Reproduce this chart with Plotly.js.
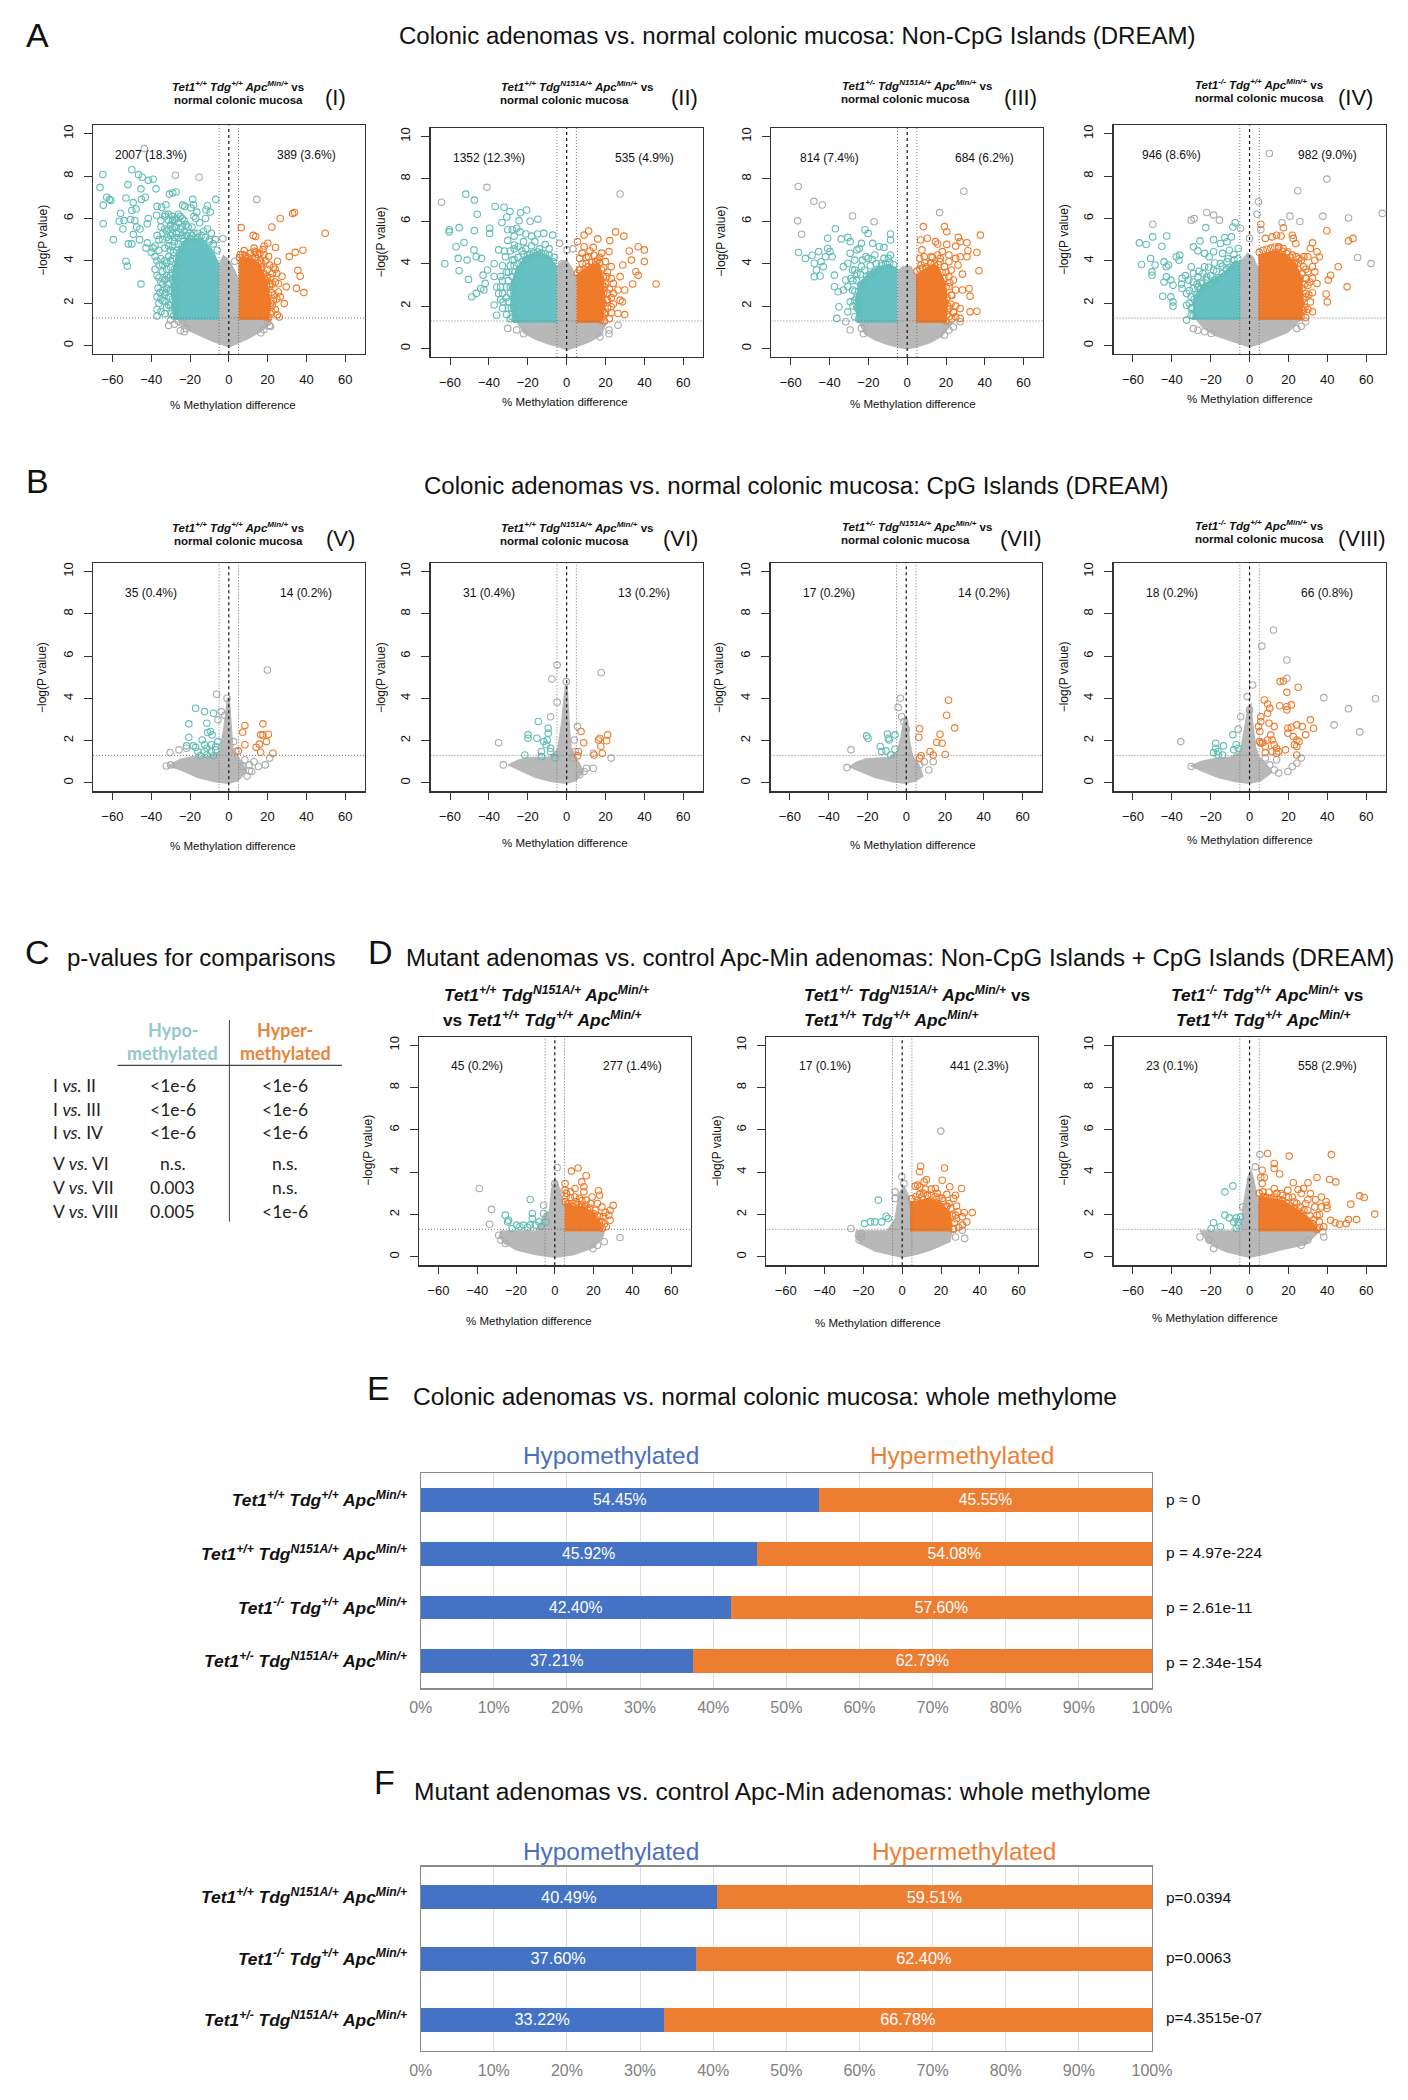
<!DOCTYPE html>
<html><head><meta charset="utf-8">
<script src="https://cdn.plot.ly/plotly-3.0.1.min.js"></script>
<style>html,body{margin:0;padding:0;background:#fff}#chart{width:1408px;height:2100px}</style>
</head><body><div id="chart"></div>
<script>
// ---------- values: [% methylation difference, -log(P)] ----------
const I_hypo=[[-64.9,8.08],[-50,8.3],[-46.5,8.07],[-44.6,7.95],[-41.5,7.8],[-39,7.85],[-66.4,7.47],[-52,7.6],[-45.3,7.4],[-37.5,7.4],[-62.9,7],[-61.5,6.9],[-60.8,6.85],[-53,6.97],[-49.3,6.75],[-45,6.9],[-43,7],[-30.6,7.15],[-28.9,7.2],[-27.2,7.25],[-18.6,6.9],[-6.7,6.9],[-64.7,6.63],[-55.8,6.25],[-50,6.38],[-47.8,6.45],[-37,6.57],[-34.6,6.53],[-32.4,6.65],[-23.8,6.63],[-22.7,6.57],[-18.2,6.65],[-19.6,6.5],[-11,6.6],[-11.7,6.4],[-9.6,6.3],[-56.5,5.87],[-54,5.9],[-64.7,5.75],[-50.6,5.95],[-48.4,5.9],[-54.6,5.5],[-47.5,5.6],[-45.8,5.5],[-59.5,5],[-49.2,5.25],[-42,5.75],[-41.5,6],[-37.2,6.15],[-32.7,6.2],[-51.8,4.8],[-50,4.8],[-46,5],[-42,4.85],[-42.7,4.6],[-53,3.98],[-52.3,3.75],[-45.3,2.9],[-33,6.1],[-31,5.9],[-29,6.1],[-27,6],[-25,6.1],[-23,5.9],[-30,5.7],[-28,5.6],[-26,5.8],[-24,5.6],[-22,5.7],[-32,5.4],[-29,5.3],[-27,5.3],[-24,5.2],[-35,5.6],[-37,5.2],[-34,5],[-31,5],[-38,4.7],[-36,4.5],[-33,4.6],[-30,4.5],[-28,4.9],[-40,4.4],[-38,4.2],[-35,4.1],[-33,4],[-31,4.2],[-29,4.1],[-27,4.5],[-36,3.8],[-34,3.5],[-32,3.6],[-30,3.7],[-28,3.6],[-37,3.3],[-35,3],[-33,3.1],[-31,3.2],[-29,3.1],[-36.5,2.7],[-34,2.6],[-32,2.7],[-30,2.6],[-28,2.8],[-37,2.3],[-35,2.2],[-33,2.1],[-31,2.3],[-29,2.2],[-27,2.4],[-36,2],[-30,1.9],[-28,1.8],[-27.5,1.6],[-28.5,1.4],[-37,1.7],[-37,1.4],[-19,5.6],[-17,6],[-15,5.8],[-13,5.4],[-11,5.5],[-9,5.3],[-7,5],[-16,5.3],[-20,5.3],[-12,6],[-10,5],[-18,6.1],[-16.5,6.3],[-27,1.4],[-27.5,1.9],[-26.5,2.2],[-27.5,2.6],[-26.5,3],[-27.5,3.3],[-26.8,3.7],[-25.5,3.9],[-27,4.1],[-25.5,4.4],[-24,4.7],[-26,4.8],[-24,5.05],[-22,5.2],[-20,5.05],[-18,5.3],[-16,5.1],[-14,5.2],[-12,5.1],[-10,4.9],[-8,4.8],[-6,4.5],[-29.5,1.5],[-31,1.9],[-32.5,2.5],[-31.5,2.9],[-30,3.3],[-32,3.3],[-34,3.8],[-32,3.9],[-30,4],[-28.5,4.4],[-31,4.7],[-29,4.7],[-26,5.1],[-28,5.1],[-30,5.2],[-32,5.1],[-33,5.5],[-31,5.5],[-29,5.5],[-27,5.6],[-25,5.5],[-23,5.4],[-21,5.6],[-19,5.2],[-34,2.9],[-33,2.4],[-34,2.1],[-32,1.8],[-33,1.5],[-35,1.6],[-35.5,2.5],[-36,3.2],[-38,3.6],[-37,4],[-39,4.6],[-36,5],[-34,5.3],[-28,5.95],[-26,6.2],[-24,6],[-29,5.9],[-31,6.2],[-35,5.9]];
const I_hyper=[[6.4,5.57],[12.6,5.2],[13.9,5.15],[22.2,5.6],[26.5,6],[32.9,6.23],[33.9,6.28],[49.7,5.3],[20.1,4.83],[18.2,4.7],[17.6,4.53],[24.1,4.63],[7.9,4.48],[13.3,4.45],[13.9,4.4],[34.2,4.4],[38.2,4.5],[31.2,4.2],[5.9,4.3],[35.6,3.55],[36.8,3.27],[34.9,2.7],[38.7,2.5],[25.1,3.98],[23.9,3.6],[24.8,3.4],[27.4,3.27],[25.6,2.92],[29.6,2.77],[25.6,2.53],[26.5,2.3],[28.6,1.98],[24.8,2.2],[21.3,2.9],[19.6,3.25],[17,3.7],[16.2,4],[18,4.3],[21,3.8],[22.5,3.4],[22,2.5],[23,2.1],[24,1.7],[25,1.45],[26,1.35],[22,1.6],[21.5,3.2],[20,3.6],[15,4.3],[11,4.35],[9,4.1],[19,4],[5.5,4.15],[7,4.3],[8.5,4.25],[10,4.15],[12,4.1],[14,4.15],[15,3.9],[16.5,3.6],[18,3.4],[18,3],[19.5,2.8],[20.5,2.4],[21.5,2],[21.5,1.5],[20.5,1.3],[19,3.1],[17,3.9],[20,3.2],[21,2.8],[22.5,2.9],[23.5,2.4],[22.5,1.9],[24,3],[23,3.7],[20.5,4.2],[16,4.35],[13,4.6]];
const I_ns=[[-43.6,9.3],[-27.5,8.04],[-15.3,7.95],[14.4,6.9],[3.1,3.98],[-3,5.05],[-28,1],[-31,.95],[-24,1.05],[-22,.8],[-25,.7],[-23,.65],[-30,1.2],[-26,1.15],[20,1.1],[21,.95],[18,.75],[16.5,.6],[21.5,.9]];
const I_massNs=[[-27,1.25],[-24,.9],[-20,.65],[-14,.4],[-8,.15],[-3,0],[0,-.1],[4,.05],[10,.3],[16,.6],[20,.85],[22,1.25],[5,1.25],[5,3.2],[3,3.6],[0,4.1],[-3,4.3],[-5,3.9],[-5,1.25]];
const I_massHypo=[[-5,1.2],[-5,3.9],[-8,4.5],[-14,5.1],[-22,5.1],[-26,4.6],[-29,3.6],[-30,2.6],[-29,1.8],[-28,1.2]];
const I_massHyper=[[5,1.2],[5,4.1],[8,4.2],[13,4.1],[17,3.7],[20,3],[22,2],[21,1.2]];

const II_hypo=[[-51.9,7.28],[-47.5,7],[-46,6.33],[-36.8,6.7],[-32.2,6.66],[-29.2,6.46],[-30.8,6.2],[-23.8,6.4],[-20.6,6.53],[-24.5,6.03],[-18.8,6],[-14.8,6.1],[-33.3,5.94],[-60.4,5.6],[-55.3,5.7],[-60.4,5.5],[-47.5,5.56],[-39.6,5.67],[-39.6,5.43],[-56.9,4.8],[-52.8,5],[-47.7,4.65],[-46.5,4.33],[-43.8,4.25],[-55.8,4.25],[-51.2,4.17],[-62.7,4],[-55.3,3.67],[-50.5,3.26],[-48.8,2.44],[-46.5,2.6],[-44.2,2.83],[-42.6,2.76],[-30.3,5.6],[-28,5.6],[-25.7,5.67],[-30.3,5.1],[-26.9,4.88],[-22.2,5.04],[-16.4,5.04],[-11.8,5.43],[-7.2,5.35],[-35,4.65],[-31.5,4.33],[-28,4.17],[-37.3,4],[-40.7,3.7],[-43,3.46],[-37.3,3.4],[-41.9,3.07],[-36,2.9],[-35,2.6],[-37.3,2.05],[-32.7,2.2],[-36,1.57],[-33,3.9],[-30,3.6],[-33,3.2],[-31,2.9],[-29,2.6],[-33,2.6],[-30,2.2],[-28.5,1.9],[-31,1.6],[-28,1.5],[-27,3.9],[-25,4.3],[-23,4.6],[-20,4.4],[-27,4.7],[-18,4.85],[-14,4.7],[-11,4.9],[-9,4.7],[-6.5,4.3],[-21,5.4],[-24,5.5],[-27,5.3],[-18,5.3],[-15,5.4],[-26.5,1.4],[-27,1.9],[-26.5,2.4],[-27.5,2.9],[-26,3.2],[-26.5,3.6],[-24.5,3.7],[-25,4],[-23,4.1],[-21,4.2],[-22,4.45],[-19,4.45],[-17,4.5],[-15,4.55],[-13,4.5],[-11,4.45],[-9,4.4],[-7,4.1],[-29,1.4],[-30,1.9],[-31,2.4],[-29,2.9],[-30,3.2],[-28,3.4],[-29,3.9],[-27,4.2],[-31,3.6],[-34,3.4],[-34,2.9],[-33,1.9],[-34,2.3],[-32,4.6],[-29,4.6],[-25,4.8],[-21,4.7]];
const II_hyper=[[5.6,5.04],[9,5.35],[11.3,5.54],[16,5.17],[22.2,5.09],[25.2,5.5],[29.4,5.3],[9,4.8],[13.7,4.77],[21.8,4.57],[32.2,4.6],[36.8,4.8],[40,4.65],[6.7,4.25],[11.3,4.33],[16,4.17],[33.3,4.17],[40,4.1],[28.9,3.94],[22.9,3.86],[35.6,3.62],[36.8,3.45],[34,3.04],[46,3.04],[29.9,2.76],[26.4,2.76],[27.5,3.39],[20.6,3.39],[24,3.07],[27.5,2.28],[28.7,2.2],[20.6,2.28],[19.4,1.65],[26.4,1.65],[29.9,1.6],[22.9,1.97],[6.5,3.7],[10,4],[8,4.5],[12,4.6],[17,4.3],[15,3.95],[19,3.8],[21,3.6],[19.5,2.9],[21,2.6],[23,2.4],[19,2.1],[21,1.9],[18.5,1.5],[22,1.4],[5.5,3.55],[7,3.7],[9,3.75],[11,3.85],[13,4.05],[15,4.1],[17,4.05],[18,3.7],[19,3.4],[18.5,3],[19,2.6],[18.5,2.2],[18.5,1.8],[17.5,1.35],[20,3.05],[21,2.3],[20,1.7],[19.5,1.3],[8,4],[10,4.3],[14,4.4],[18,4.5],[20,4.1],[23,3.3],[22,2.8],[24,2.6],[24,2.1],[23,1.7]];
const II_ns=[[-64.4,6.9],[-41,7.6],[27.5,7.29],[-3.7,4.96],[.2,4.65],[3.2,4.7],[26.4,1.1],[21.8,.87],[21.8,.7],[17.1,.55],[-2.5,4],[-30.3,.95],[-25.7,.87],[-22.2,.7]];
const II_massNs=[[-26,1.25],[-22,.7],[-16,.4],[-10,.2],[-4,.05],[0,-.1],[5,.05],[12,.3],[18,.6],[21,1.25],[5,1.25],[5,3.4],[3,3.8],[0,4.2],[-3,4.1],[-5,3.9],[-5,1.25]];
const II_massHypo=[[-5,1.2],[-5,3.9],[-9,4.4],[-15,4.6],[-21,4.4],[-26,3.8],[-29,3],[-29,2],[-27.5,1.2]];
const II_massHyper=[[5,1.2],[5,3.5],[8,3.7],[13,4],[17,4],[19,3.3],[20,2.4],[19,1.5],[18,1.2]];

const III_hypo=[[-37,5.65],[-41,5.2],[-56,4.53],[-21.8,5.6],[-20.1,5.43],[-34,5.17],[-30.6,5.24],[-29.4,5.04],[-8.6,5.4],[-8.6,5.12],[-52.5,4.25],[-49,4.4],[-45.6,4.57],[-41,4.72],[-39.8,4.57],[-23.6,4.96],[-24.8,4.72],[-17.8,4.96],[-14.4,4.8],[-12,4.77],[-47.9,4.02],[-44.4,4.09],[-42.1,4.33],[-38.7,4.33],[-46.8,3.7],[-43.3,3.86],[-47.9,3.39],[-44.9,3.42],[-29.4,4.49],[-25.9,4.65],[-21.3,4.33],[-16.7,4.41],[-8.6,4.41],[-37.5,3.46],[-37.5,2.91],[-35.6,2.68],[-32.9,3.86],[-30.6,4.02],[-27.1,4.17],[-31.7,3.23],[-28.2,3.7],[-32.9,2.76],[-30.6,2.91],[-35.2,1.97],[-30.6,1.73],[-36.3,1.42],[-28.2,2.76],[-27.1,2.28],[-29.4,2.2],[-24.8,1.81],[-24.8,2.28],[-23.1,4.17],[-20.1,4.25],[-13.2,4.02],[-9.7,4.25],[-23.6,3.86],[-25.9,3.54],[-25,1.4],[-25.5,1.9],[-26,2.4],[-25,2.7],[-24,3],[-22,3.1],[-21,3.4],[-19,3.5],[-17,3.6],[-15,3.75],[-13,3.9],[-11,4],[-9,4.05],[-7,3.95],[-27,1.5],[-28,2],[-27,2.7],[-28,3.2],[-26,3.2],[-24,3.5],[-22,3.7],[-19,3.9],[-16,4],[-29,3.3],[-27,3.7],[-18,4.2],[-12,4.25],[-26,1.95]];
const III_hyper=[[8.3,5.75],[19.2,5.75],[20.4,5.51],[37.7,5.35],[6.9,5.12],[10.4,5.2],[14.6,5.04],[15.7,4.93],[26.4,5.24],[27.3,5.04],[30.8,4.99],[25,4.83],[20.4,4.91],[7.6,4.65],[35.9,4.53],[31.3,4.61],[18.1,4.57],[15.7,4.41],[12.3,4.33],[8.8,4.33],[6.5,4.25],[21.5,4.41],[25,4.25],[27.3,4.33],[30.8,4.33],[7.2,3.94],[12.3,4.02],[16.9,4.09],[21.5,4.09],[26.2,3.94],[22.7,3.7],[19.2,3.86],[37,3.67],[28.5,3.51],[23.8,3.23],[21.5,3.39],[31.9,2.83],[28.5,2.76],[25,2.76],[32.4,2.47],[22.7,2.52],[21.5,2.91],[25,2],[27.3,1.89],[23.8,1.73],[21.5,1.89],[25,1.5],[27.3,1.42],[21.5,1.5],[32.4,1.73],[35.9,1.76],[5,3.65],[6.5,3.75],[8,3.8],[10,3.85],[12,4],[14,4],[16,3.95],[18,3.6],[19,3.3],[20,2.9],[20.5,2.4],[21,2],[20.5,1.6],[20,1.3],[9,4.05],[13,4.3],[17,4.25],[20,3.6],[22,3.1],[23,2.5],[22.5,2.1],[23,1.4],[24,1.7]];
const III_ns=[[-56.2,7.64],[-48.1,6.94],[-43.8,6.77],[-56.5,6.02],[-28.2,6.25],[-17.1,5.98],[29.2,7.42],[16.7,6.41],[-54.4,5.39],[-31.7,1.26],[-29.4,.87],[-22.5,.7],[-23.6,.95],[27.3,1.26],[23.8,1.02],[19.2,.63],[21.5,.87]];
const III_massNs=[[-25,1.25],[-22,.65],[-16,.35],[-10,.15],[-4,.02],[0,-.05],[5,.05],[12,.25],[18,.55],[24,1.25],[5,1.25],[5,3.4],[2,3.9],[-2,3.9],[-5,3.7],[-5,1.25]];
const III_massHypo=[[-5,1.2],[-5,3.8],[-9,4],[-14,3.9],[-20,3.6],[-25,3.1],[-27,2.3],[-26,1.2]];
const III_massHyper=[[4.5,1.2],[4.5,3.5],[8,3.7],[13,4],[16,3.9],[20,3.1],[21,2.2],[20.5,1.2]];

const IV_hypo=[[-22.5,5.57],[-7.4,5.8],[-8.6,5.6],[-49.8,5.13],[-42.6,5.17],[-56.7,4.85],[-53.2,4.77],[-45.1,4.69],[-25.5,4.94],[-28.9,4.66],[-26.6,4.47],[-23.1,4.35],[-18.5,5],[-12.7,5.1],[-9.3,5.13],[-15,4.82],[-11.6,4.9],[-35.9,4.27],[-37.7,4.19],[-36.3,4.03],[-18.5,4.43],[-20.8,4.19],[-13.9,4.35],[-10.4,4.5],[-5.8,4.58],[-50.9,4.11],[-48.6,3.8],[-55.6,3.83],[-44,3.95],[-41.7,3.8],[-42.8,3.72],[-50.2,3.48],[-50.2,3.32],[-42.8,3.24],[-40.5,3.09],[-44,3],[-39.4,2.85],[-44.7,2.33],[-40.5,2.3],[-39.4,2.06],[-39.4,1.86],[-30,3.72],[-34.7,3.17],[-31.3,3.09],[-26.6,3.24],[-23.1,3.72],[-28.9,3.4],[-34.7,2.69],[-32.4,2.46],[-30,2.3],[-26.6,2.77],[-32.4,1.9],[-30,1.75],[-30,1.43],[-32.4,1.2],[-22,3.24],[-18.5,3.56],[-15,3.87],[-11.6,3.95],[-24.3,2.93],[-29,1.4],[-29.5,1.8],[-28.5,2.2],[-27,2.4],[-25,2.7],[-23,2.7],[-20,2.9],[-18,3.1],[-16,3.2],[-14,3.4],[-12,3.6],[-10,3.7],[-8,4.05],[-6,4.1],[-31,2],[-31,2.6],[-29,2.7],[-27,2.9],[-25,3],[-22,3.1],[-20,3.3],[-17,3.5],[-14,3.75],[-11,4.1],[-8,4.3],[-29,3],[-26,3.5],[-24,3.4],[-21,3.7],[-18,3.9],[-35,2.9],[-33,3.3]];
const IV_hyper=[[5.8,5.73],[17.4,5.56],[39.8,5.42],[50.9,4.94],[53.2,5.06],[8.1,5.06],[11.6,5.13],[13.9,5.21],[16.2,5.17],[22,5.21],[22.5,5.06],[32.4,4.85],[31.3,4.58],[34.7,4.43],[15,4.66],[17.4,4.58],[19.7,4.43],[23.8,4.82],[22,4.27],[25.5,4.11],[30,4.19],[35.9,4.19],[33.6,4.03],[45.6,3.72],[41.7,3.32],[40.5,3.09],[39.4,2.43],[40,2.06],[50.2,2.77],[32.4,3.72],[33.6,3.48],[30,3.48],[27.8,3.72],[32.4,3.17],[28.9,3.17],[34.7,2.93],[30,2.85],[32.4,2.49],[28.9,2.46],[31.3,2.06],[32.4,1.59],[28.9,1.32],[26.6,1.98],[27.8,1.67],[26.6,4.03],[23.1,3.87],[5,4.4],[7,4.5],[9,4.55],[11,4.6],[13,4.65],[15,4.6],[17,4.45],[19,4.35],[21,4.15],[23,3.9],[25,3.6],[26,3.2],[27,2.7],[27.5,2.2],[27,1.7],[26.5,1.35],[25,3.9],[27,3.4],[28.5,2.9],[29,2.3],[28.5,1.8],[29,3.6],[31,3],[30.5,2.4],[30,1.7],[24,4.2],[28,4.2]];
const IV_ns=[[10.2,9.07],[39.8,7.86],[24.8,7.31],[4.6,6.79],[3.9,6.2],[20.8,6.11],[25.9,5.86],[37.7,6.11],[50.9,6.02],[68.3,6.24],[16.7,5.8],[-28.5,6],[-30,5.92],[-22,6.28],[-18.5,6.16],[-15.5,5.92],[-49.8,5.73],[-4.6,5.53],[0,5.06],[5.8,5.48],[55.6,4.16],[62.5,3.87],[-26.6,.72],[-28.9,.8],[-23.1,.65],[-19.7,.57],[24.3,.8],[26.6,.91],[28.9,1.12]];
const IV_massNs=[[-28,1.25],[-24,.8],[-18,.45],[-10,.2],[-4,.03],[0,-.1],[5,.05],[12,.3],[20,.6],[27,1.25],[5,1.25],[5,3.6],[2,4.2],[-1,4.4],[-4.5,4],[-4.5,1.25]];
const IV_massHypo=[[-4.5,1.2],[-4.5,4],[-8,4],[-13,3.5],[-18,3.2],[-24,2.9],[-29,2.3],[-29.5,1.2]];
const IV_massHyper=[[4.5,1.2],[4.5,4.3],[9,4.4],[14,4.5],[19,4.3],[24,3.9],[27,3.2],[28,2],[27,1.2]];

const V_hypo=[[-17.1,3.53],[-12.5,3.37],[-7.9,3.29],[-20.6,2.79],[-11.3,2.82],[-10.9,2.38],[-8.6,2.27],[-9.5,2.43],[-20.6,2.16],[-13.7,2.03],[-12.5,1.8],[-21.8,1.75],[-18.3,1.75],[-17.1,1.68],[-9,1.8],[-6.7,1.72],[-16,1.48],[-11.3,1.64],[-9,1.48],[-6.7,1.56],[-12.5,1.48],[-5.6,1.95],[-14.8,1.28],[-11.3,1.32],[-7.9,1.28]];
const V_hyper=[[8.3,2.71],[7.2,2.39],[17.6,2.79],[16.4,2.27],[17.6,2.27],[20.4,2.3],[19.4,1.95],[8.3,1.8],[15.7,1.83],[14.1,1.68],[16.4,1.45],[22.7,1.4],[4.9,1.51]];
const V_ns=[[19.9,5.34],[-6.3,4.19],[-.9,4],[-30.3,1.43],[-25.7,1.56],[-21.8,1.64],[-32.2,.8],[-29.9,.85],[-2.1,3.2],[-5.6,2.98],[-3.9,3.37],[2.5,1.95],[3.7,1.48],[8.3,1.09],[10.6,.85],[11.8,.54],[15.3,.77],[18.8,.85],[10.6,.56],[9.5,.32],[21.1,1.17],[13,1],[7.2,.77]];
const V_massNs=[[-32,.8],[-25,1.15],[-18,1.28],[-9,1.3],[-5,1.5],[-3,2.5],[-1,4],[.5,4.1],[1.5,2.8],[2.5,1.6],[5,1.25],[7,1],[9.5,.55],[5,.08],[0,-.05],[-7,.02],[-16,.22],[-25,.58]];

const VI_hypo=[[-14.6,2.9],[-9.5,2.58],[-9.5,2.35],[-19.9,2.27],[-19.9,2.11],[-15.3,2.11],[-11.8,1.95],[-10,2.03],[-10.6,1.8],[-8.3,1.64],[-13,1.48],[-13,1.24],[-8.3,1.48],[-6,1.17],[-21.5,1.32]];
const VI_hyper=[[7.4,2.43],[17.1,2.11],[16.4,2.03],[21.1,2.27],[20.6,1.99],[8.8,1.9],[17.6,1.73],[18.3,1.4],[14.1,1.32],[6,1.48],[5.6,1.28]];
const VI_ns=[[17.8,5.21],[-4.9,5.57],[-7.6,4.91],[-.2,4.79],[-4.9,3.81],[-8.3,3.13],[-35,1.9],[-32.6,.85],[22.9,1.17],[13.7,1.4],[13.7,.69],[9,.54],[6.7,.38],[10.2,.69],[5.6,2.66],[3.9,2.03],[4.4,1.48],[3.2,1.17]];
const VI_massNs=[[-31,.85],[-25,1.1],[-20,1.22],[-9,1.25],[-5,1.6],[-3,2.8],[-1,4.6],[.5,4.7],[1.5,3],[2.5,1.7],[5,1.2],[7,.9],[9,.5],[5,.08],[0,-.05],[-7,.02],[-16,.22],[-25,.6]];

const VII_hypo=[[-20.4,2.22],[-19.7,2.11],[-9.7,2.31],[-9.3,2.11],[-8.8,2.03],[-5.8,2.27],[-13.4,1.72],[-10.4,1.51],[-5.8,1.59],[-12.7,1.48],[-8.1,1.32]];
const VII_hyper=[[21.8,3.91],[20.8,3.2],[25,2.6],[6.9,2.56],[6.5,2.16],[17.4,2.3],[15.7,1.92],[18.5,1.87],[7.6,1.28],[12.3,1.48],[13.9,1.32],[20.1,1.34],[6.9,1.17]];
const VII_ns=[[-28.5,1.56],[-30.6,.72],[-3,4],[-4.2,3.57],[-2.3,3.13],[-1.2,2.9],[0,2.53],[11.6,.61],[6.9,.85],[9.3,1],[13.9,1]];
const VII_massNs=[[-30,.75],[-26,1],[-21,1.16],[-9,1.24],[-5,1.5],[-3,2.2],[-1,3.2],[1,3],[2,2],[3.5,1.3],[5,1.1],[7,.85],[9,.3],[5,.06],[0,-.05],[-7,.02],[-16,.22],[-25,.55]];

const VIII_hypo=[[-8.6,2.27],[-17.4,1.87],[-17.4,1.64],[-13.4,1.75],[-16.2,1.48],[-18.5,1.43],[-6.9,1.8],[-5.8,1.64],[-8.1,1.56],[-13.9,1.32],[-16.2,1.32]];
const VIII_hyper=[[15.7,4.79],[17.4,4.82],[19.2,4.28],[25,4.52],[7.6,3.92],[9.3,3.73],[10.4,3.53],[9.3,3.29],[15.5,3.65],[19.2,3.61],[21.5,3.69],[19.2,3.45],[31.3,2.98],[32.9,2.58],[5.8,3.13],[5.8,2.9],[4.6,2.66],[5.3,2.43],[5.1,1.95],[5.8,1.87],[10,2.82],[12.7,2.66],[19.7,2.58],[21.5,2.63],[24.3,2.74],[27.1,2.66],[28.9,2.27],[10.9,2.27],[9.3,2.03],[11.6,2.03],[19.7,2.35],[22.5,2.19],[24.3,2.03],[25.5,1.95],[23.1,1.8],[6.9,1.91],[8.1,1.72],[12.7,1.8],[13.9,1.64],[15,1.48],[18.5,1.56],[24.3,1.72],[24.3,1.32],[13.9,1.4],[8.1,1.43],[11.6,1.48]];
const VIII_ns=[[12.3,7.23],[6.3,6.47],[19.2,5.81],[19.2,4.94],[1.6,4.63],[-35.4,1.95],[64.8,3.98],[38.2,4.03],[56.7,2.41],[43.5,2.74],[50.9,3.51],[-30,.77],[-1.2,4.08],[-4.6,3.13],[-5.8,2.54],[0,3.45],[26.6,1.17],[24.3,.93],[19.7,.54],[15,.46],[12.7,.61],[10.4,.85],[22,.77],[13.9,1.09],[8.1,1.17]];
const VIII_massNs=[[-31,.8],[-25,1.05],[-18,1.18],[-10,1.25],[-5,1.5],[-3,2.5],[-1,3.6],[1,3.8],[2,2.8],[3.5,1.7],[5,1.25],[8,1],[12,.5],[6,.08],[0,-.05],[-7,.02],[-16,.22],[-25,.55]];

const D1_hypo=[[-12.7,2.71],[-25.5,1.97],[-23.8,1.73],[-24.3,1.65],[-19.7,1.5],[-16.2,1.5],[-11.6,2.05],[-11.6,1.81],[-8.1,1.65],[-12.7,1.5],[-5.8,2.05],[-4.6,1.65],[-22,1.34],[-18,1.42],[-14,1.4],[-10,1.5],[-7,1.45]];
const D1_hyper=[[8.6,4.05],[12,4.2],[16.2,3.83],[13.9,3.54],[15,3.31],[5.3,3.46],[5.3,3.15],[10.4,3.23],[8.1,3.07],[15,3.07],[22.5,3.12],[19.2,2.83],[23.1,2.91],[5.8,2.83],[10.4,2.83],[12.7,2.76],[16.2,2.68],[18.5,2.52],[22,2.52],[30.1,2.43],[28.5,2.2],[24.3,2.36],[6.9,2.36],[9.3,2.52],[13.9,2.44],[20.8,2.2],[27.8,1.97],[28.5,1.73],[26.6,1.42],[23.1,1.89],[24.3,1.65],[5.5,2.6],[7,2.5],[9,2.4],[11,2.45],[13,2.35],[15,2.3],[17,2.2],[19,2],[21,1.8],[23,1.65],[24.5,1.35],[6,3],[8,2.8],[11,2.6],[14,2.65],[16,2.45],[18,2.3],[20,2.05],[22,1.95],[25,1.9],[26,2.1],[25.5,1.55]];
const D1_ns=[[-38.9,3.23],[1.2,4.22],[0,3.46],[-32.6,2.24],[-33.6,1.54],[33.6,.91],[-28.9,1.02],[-27.8,.79],[-25.5,.63],[25.5,.71],[22,.55],[19.7,.39],[-5.8,2.44]];
const D1_massNs=[[-28,1.25],[-29,.95],[-26,.6],[-20,.3],[-10,.08],[0,-.05],[10,.08],[20,.4],[25,.9],[26,1.25],[5,1.25],[5,2.4],[3,3.2],[0,3.8],[-2,3.2],[-3,2.2],[-6,2],[-8,1.5],[-10,1.25]];
const D1_massHyper=[[5,1.2],[5,2.6],[10,2.4],[15,2.4],[20,2.1],[24,1.6],[25,1.2]];

const D2_hypo=[[-12.3,2.68],[-8.3,1.92],[-10.6,1.65],[-14.1,1.65],[-16.4,1.65],[-19.4,1.57],[-7.2,1.81]];
const D2_hyper=[[9.5,4.28],[9,4.02],[21.8,4.2],[20.6,3.62],[6.7,3.34],[7.9,3.39],[11.3,3.54],[12.5,3.65],[17.1,3.23],[24.5,3.31],[30.6,3.23],[27.5,2.91],[26.4,2.76],[10.2,2.83],[13,2.91],[7.9,2.68],[20.6,2.76],[24.1,2.52],[22.9,2.36],[28.7,2.13],[32,2.08],[36.1,2.09],[27.5,1.97],[31,1.89],[33.3,1.65],[31,1.5],[26.4,1.34],[5,2.75],[7,2.85],[9,2.95],[11,3],[13,2.9],[15,2.9],[17,2.85],[19,2.8],[21,2.65],[23,2.4],[25,2.3],[26,1.95],[27,1.6],[26.5,1.3],[28,2.4],[28,1.8],[29,1.4],[18,3],[15,3.2],[12,3.2],[9,3.3],[23,2.95]];
const D2_ns=[[19.9,5.94],[.9,3.46],[-3.7,3.07],[-.2,3.78],[-26.4,1.34],[-21,1.1],[-22.2,.79],[-21,.94],[32.2,.87],[27.5,.94],[31,1.26],[-3.7,2.76]];
const D2_massNs=[[-24,1.25],[-24.5,.95],[-22,.6],[-14,.24],[-5,.05],[0,-.05],[8,.1],[15,.3],[25,.7],[26,1.25],[5,1.25],[4,2.8],[1,3.4],[-2,3],[-3,2.4],[-4,1.8],[-8,1.25]];
const D2_massHyper=[[4,1.2],[4,2.6],[9,2.7],[14,2.75],[20,2.6],[25,2.1],[26,1.5],[25.5,1.2]];

const D3_hypo=[[-12.7,3.07],[-8.6,3.35],[-12.7,1.97],[-10.4,1.84],[-6.9,1.84],[-4.6,1.89],[-5.8,1.65],[-8.1,1.65],[-5.8,1.5],[-18.5,1.61],[-19.7,1.34],[-15,1.42],[-6.9,1.34]];
const D3_hyper=[[9.3,4.88],[20.4,4.76],[42.1,4.83],[6.5,4.09],[5.8,3.75],[7.6,3.75],[6.5,3.46],[12.7,4.41],[12.7,4.17],[15.5,3.91],[34.7,3.75],[41.2,3.65],[44.4,3.54],[22.5,3.5],[30.1,3.5],[25,3.18],[27.8,3.23],[31.3,2.99],[37,2.83],[39.4,2.6],[39.8,2.44],[39.8,2.28],[37,2.36],[56.7,2.88],[59,2.8],[52.1,2.49],[64.4,2.02],[55.1,1.76],[50.9,1.76],[49.8,1.57],[46.3,1.54],[41.7,1.73],[44,1.61],[12.7,2.83],[16.2,2.99],[19.7,3.15],[12.7,3.23],[6.9,3.07],[8.1,2.76],[22,2.83],[26.6,2.99],[24.3,2.52],[28.9,2.52],[33.6,2.36],[30,2.2],[34.7,1.97],[35.9,1.65],[38.2,1.42],[32.4,1.57],[26.6,2.05],[5,3],[7,2.85],[9,2.8],[11,2.75],[13,2.7],[15,2.7],[17,2.65],[19,2.55],[21,2.4],[23,2.3],[25,2.15],[27,1.95],[29,1.75],[31,1.6],[33,1.4],[34.5,1.3],[10,3.05],[14,3],[17,2.9],[20,2.8],[23,2.6],[26,2.35],[28,2.2],[31,1.95],[33,1.75],[36,1.4],[30,2.7],[34,2.7],[36,2]];
const D3_ns=[[5.3,4.83],[3,4.25],[.5,3.62],[-3.5,2.36],[-25.5,.94],[-20.8,.79],[-18.5,.39],[38.2,.94],[37.7,1.18],[30,.79],[26.6,.55]];
const D3_massNs=[[-26,1.25],[-22,.7],[-18,.45],[-12,.2],[-5,.05],[0,-.05],[8,.1],[16,.3],[29,.55],[37,1.25],[5,1.25],[5,2.4],[3,3.4],[1,4.2],[-1,3.8],[-3,2.6],[-4,2.2],[-4.5,1.25],[-12,1.25]];
const D3_massHyper=[[4.5,1.2],[4.5,2.9],[10,2.8],[17,2.7],[24,2.3],[31,1.8],[36,1.2]];

const countsLeft=["2007 (18.3%)","1352 (12.3%)","814 (7.4%)","946 (8.6%)","35 (0.4%)","31 (0.4%)","17 (0.2%)","18 (0.2%)","45 (0.2%)","17 (0.1%)","23 (0.1%)"];
const countsRight=["389 (3.6%)","535 (4.9%)","684 (6.2%)","982 (9.0%)","14 (0.2%)","13 (0.2%)","14 (0.2%)","66 (0.8%)","277 (1.4%)","441 (2.3%)","558 (2.9%)"];

const wtLine='Tet1<sup>+/+</sup> Tdg<sup>+/+</sup> Apc<sup>Min/+</sup>';
const n151Line='Tet1<sup>+/+</sup> Tdg<sup>N151A/+</sup> Apc<sup>Min/+</sup>';
const dblLine='Tet1<sup>+/-</sup> Tdg<sup>N151A/+</sup> Apc<sup>Min/+</sup>';
const koLine='Tet1<sup>-/-</sup> Tdg<sup>+/+</sup> Apc<sup>Min/+</sup>';

const tableRows=['I <i>vs.</i> II','I <i>vs.</i> III','I <i>vs.</i> IV','V <i>vs.</i> VI','V <i>vs.</i> VII','V <i>vs.</i> VIII'];
const tableHypo=['<1e-6','<1e-6','<1e-6','n.s.','0.003','0.005'];
const tableHyper=['<1e-6','<1e-6','<1e-6','n.s.','n.s.','<1e-6'];

const E_cats=[wtLine,n151Line,koLine,dblLine];
const E_hypo=[54.45,45.92,42.40,37.21];
const E_hyper=[45.55,54.08,57.60,62.79];
const E_p=['p ≈ 0','p = 4.97e-224','p = 2.61e-11','p = 2.34e-154'];
const F_cats=[n151Line,koLine,dblLine];
const F_hypo=[40.49,37.60,33.22];
const F_hyper=[59.51,62.40,66.78];
const F_p=['p=0.0394','p=0.0063','p=4.3515e-07'];
const pctTicks=[0,10,20,30,40,50,60,70,80,90,100];

// ---------- page geometry ----------
const W=1408,H=2100,FONT='"Liberation Sans",Arial,sans-serif';
const TEAL='#66c1c4',TEAL_LINE='#62bdb6',ORANGE='#ef7a2a',GREY='#b8b8b8',GREY_LINE='#ababab';
const annotations=[],shapes=[],traces=[],layout={};
const px=(text,x,y,o={})=>annotations.push(Object.assign({text,xref:'paper',yref:'paper',x:x/W,y:1-y/H,
  xanchor:o.anchor||'center',yanchor:'middle',showarrow:false,textangle:o.angle||0,align:o.anchor||'center',
  font:{family:o.family||FONT,size:o.size||12,color:o.color||'#111'}}));

const panels=[
 {k:'I',box:[93,364.6,125.3,354],xl:[232.6,405],yl:[42.7,240],hd:[169.7,86,171.5,100],rn:[335.6,97],s:wtLine,d:[I_hypo,I_hyper,I_ns,I_massNs,I_massHypo,I_massHyper]},
 {k:'II',box:[430.6,702.7,128,357],xl:[564.8,402.3],yl:[380.8,241.7],hd:[499.3,86,498.4,100],rn:[684,97],s:n151Line,d:[II_hypo,II_hyper,II_ns,II_massNs,II_massHypo,II_massHyper]},
 {k:'III',box:[771.4,1043,128,357],xl:[913.2,403.7],yl:[721,241.7],hd:[839.6,85,839,99],rn:[1020,97],s:dblLine,d:[III_hypo,III_hyper,III_ns,III_massNs,III_massHypo,III_massHyper]},
 {k:'IV',box:[1113.5,1385.6,125.3,354],xl:[1250.4,399.3],yl:[1064,240],hd:[1193.4,83.7,1193.4,98],rn:[1355,97],s:koLine,d:[IV_hypo,IV_hyper,IV_ns,IV_massNs,IV_massHypo,IV_massHyper]},
 {k:'V',box:[93,364.6,563,791.3],xl:[232.6,846],yl:[42.7,677.3],hd:[169.7,526.7,171.5,540.7],rn:[340,538],s:wtLine,d:[V_hypo,V_hyper,V_ns,V_massNs]},
 {k:'VI',box:[430.6,702.7,563,791.3],xl:[564.8,843.3],yl:[380.8,677.3],hd:[499.3,526.7,498.4,540.7],rn:[680.6,538],s:n151Line,d:[VI_hypo,VI_hyper,VI_ns,VI_massNs]},
 {k:'VII',box:[770.5,1042,563,791.3],xl:[913.2,844.7],yl:[719.7,677.3],hd:[839.6,526,839,540],rn:[1021,538],s:dblLine,d:[VII_hypo,VII_hyper,VII_ns,VII_massNs]},
 {k:'VIII',box:[1113.5,1385.6,563,791.3],xl:[1250.4,840.3],yl:[1064,677.3],hd:[1193.4,525,1193.4,539],rn:[1361.5,538],s:koLine,d:[VIII_hypo,VIII_hyper,VIII_ns,VIII_massNs]},
 {k:'D1',box:[419,690.6,1036.7,1265.3],xl:[529,1321],yl:[368,1150.7],big:['<b><i>'+n151Line+'</i></b>',442.3,994,'<b>vs <i>'+wtLine+'</i></b>',441.4,1019],d:[D1_hypo,D1_hyper,D1_ns,D1_massNs,null,D1_massHyper]},
 {k:'D2',box:[766.4,1038,1036.7,1265.3],xl:[877.8,1322.7],yl:[716.6,1150.7],big:['<b><i>'+dblLine+'</i> vs</b>',801.9,994,'<b><i>'+wtLine+'</i></b>',801.9,1019],d:[D2_hypo,D2_hyper,D2_ns,D2_massNs,null,D2_massHyper]},
 {k:'D3',box:[1113.5,1385.6,1036.7,1265.3],xl:[1214.5,1318],yl:[1064,1150.7],big:['<b><i>'+koLine+'</i> vs</b>',1168.7,994,'<b><i>'+wtLine+'</i></b>',1174,1019],d:[D3_hypo,D3_hyper,D3_ns,D3_massNs,null,D3_massHyper]},
];
const xs=a=>a.map(p=>p[0]), ys=a=>a.map(p=>p[1]);
const close=a=>a.concat([a[0]]);

panels.forEach((p,i)=>{
  const n=i+1, sfx=n===1?'':n, xa='x'+sfx, ya='y'+sfx;
  const [l,r,t,b]=p.box;
  layout['xaxis'+sfx]={domain:[l/W,r/W],range:[-70,70],anchor:ya,tickvals:[-60,-40,-20,0,20,40,60],ticks:'outside',ticklen:7,tickwidth:1,tickcolor:'#333',
    showgrid:false,zeroline:false,showline:true,mirror:true,linecolor:'#333',linewidth:1.2,ticklabelstandoff:6,tickfont:{family:FONT,size:13,color:'#111'}};
  layout['yaxis'+sfx]={domain:[1-b/H,1-t/H],range:[-.4,10.4],anchor:xa,tickvals:[0,2,4,6,8,10],ticks:'outside',ticklen:8,tickwidth:1,tickcolor:'#333',tickangle:-90,
    showgrid:false,zeroline:false,showline:true,mirror:true,linecolor:'#333',linewidth:1.2,ticklabelstandoff:6,tickfont:{family:FONT,size:13,color:'#111'}};
  const [hypo,hyper,ns,mNs,mHypo,mHyper]=p.d;
  const mass=(a,c,name)=>{if(a)traces.push({type:'scatter',mode:'lines',x:xs(close(a)),y:ys(close(a)),xaxis:xa,yaxis:ya,fill:'toself',fillcolor:c,line:{width:0,color:c},hoverinfo:'skip',name});};
  const dots=(a,c,name)=>traces.push({type:'scatter',mode:'markers',x:xs(a),y:ys(a),xaxis:xa,yaxis:ya,marker:{symbol:'circle-open',size:6.5,color:c,line:{width:1.1,color:c}},name});
  mass(mNs,GREY,p.k+' n.s. mass');
  dots(ns,GREY_LINE,p.k+' n.s.');
  mass(mHypo,TEAL,p.k+' hypo mass');
  mass(mHyper,ORANGE,p.k+' hyper mass');
  dots(hypo,TEAL_LINE,p.k+' hypo');
  dots(hyper,ORANGE,p.k+' hyper');
  // guide lines
  [[-5,'1px,2px','#777',1],[5,'1px,2px','#777',1],[0,'3px,3px','#111',1.2]].forEach(g=>shapes.push({type:'line',xref:xa,yref:ya,x0:g[0],x1:g[0],y0:-.4,y1:10.4,line:{dash:g[1],color:g[2],width:g[3]},layer:'above'}));
  shapes.push({type:'line',xref:xa,yref:ya,x0:-70,x1:70,y0:1.3,y1:1.3,line:{dash:'1px,2px',color:'#777',width:1},layer:'above'});
  // counts
  annotations.push({text:countsLeft[i],xref:xa,yref:ya,x:-40,y:9,showarrow:false,font:{family:FONT,size:12,color:'#111'}});
  annotations.push({text:countsRight[i],xref:xa,yref:ya,x:40,y:9,showarrow:false,font:{family:FONT,size:12,color:'#111'}});
  // axis labels
  px('% Methylation difference',p.xl[0],p.xl[1],{size:11.5});
  px('−log(P value)',p.yl[0],p.yl[1],{size:12,angle:-90});
  // panel headers
  if(p.hd){
    px('<b><i>'+p.s+'</i> vs</b>',p.hd[0],p.hd[1],{anchor:'left',size:11.5});
    px('<b>normal colonic mucosa</b>',p.hd[2],p.hd[3],{anchor:'left',size:11.5});
    px('('+p.k+')',p.rn[0],p.rn[1],{size:22});
  } else {
    px(p.big[0],p.big[1],p.big[2],{anchor:'left',size:17.3});
    px(p.big[3],p.big[4],p.big[5],{anchor:'left',size:17.3});
  }
});

// ---------- stacked bars E, F ----------
function bars(idx,cats,hypo,hyper,pv,box,barW,legY,hyperX,pY){
  const xa='x'+idx, ya='y'+idx, [l,r,t,b]=box;
  const fmt=v=>v.toFixed(2)+'%';
  layout['xaxis'+idx]={domain:[l/W,r/W],range:[0,100],anchor:ya,tickmode:'array',tickvals:pctTicks,ticktext:pctTicks.map(v=>v+'%'),showgrid:true,gridcolor:'#dedede',gridwidth:1,zeroline:false,
    showline:true,mirror:true,linecolor:'#8a8a8a',linewidth:1.6,ticks:'',ticklabelstandoff:4,tickfont:{family:FONT,size:16,color:'#808080'}};
  layout['yaxis'+idx]={domain:[1-b/H,1-t/H],type:'category',autorange:'reversed',anchor:xa,showgrid:false,zeroline:false,showline:true,mirror:true,linecolor:'#8a8a8a',linewidth:1,ticks:'',
    tickmode:'array',tickvals:cats,ticktext:cats.map(c=>'<b><i>'+c+'</i></b>'),ticklabelstandoff:9,tickfont:{family:FONT,size:17.4,color:'#111'}};
  const bar=(vals,c,name)=>({type:'bar',orientation:'h',y:cats,x:vals,name,xaxis:xa,yaxis:ya,marker:{color:c},text:vals.map(fmt),textposition:'inside',insidetextanchor:'middle',
    textfont:{family:FONT,size:17,color:'#fff'},width:barW});
  traces.push(bar(hypo,'#4472c4','Hypomethylated'),bar(hyper,'#ed7d31','Hypermethylated'));
  px('Hypomethylated',611,legY,{size:24.4,color:'#4a6fbf'});
  px('Hypermethylated',hyperX,legY,{size:24.4,color:'#ec7f35'});
  pv.forEach((s,j)=>px(s,1163.5,pY[j],{anchor:'left',size:15.5}));
}
bars(12,E_cats,E_hypo,E_hyper,E_p,[420.7,1152,1473.3,1688],.44,1455,962,[1499,1552,1607,1662]);
bars(13,F_cats,F_hypo,F_hyper,F_p,[420.7,1152,1866.7,2050.7],.395,1851,964,[1897,1957,2017.6]);

// ---------- headings ----------
const T=24.05, T2=24.55, L=34;
px('A',37,35,{size:L});
px('Colonic adenomas vs. normal colonic mucosa: Non-CpG Islands (DREAM)',797,35,{size:T});
px('B',37,481,{size:L});
px('Colonic adenomas vs. normal colonic mucosa: CpG Islands (DREAM)',795.5,485,{size:T});
px('C',37,952,{size:L});
px('p-values for comparisons',201,957,{size:T});
px('D',380,952,{size:L});
px('Mutant adenomas vs. control Apc-Min adenomas: Non-CpG Islands + CpG Islands (DREAM)',900,957,{size:T});
px('E',378,1388,{size:L});
px('Colonic adenomas vs. normal colonic mucosa: whole methylome',765,1396.7,{size:T2});
px('F',384,1781.7,{size:L});
px('Mutant adenomas vs. control Apc-Min adenomas: whole methylome',782,1791.7,{size:T2});

// ---------- table C ----------
const LATO='Lato,"Open Sans",sans-serif';
px('<b>Hypo-</b>',172.9,1030,{family:LATO,size:18,color:'#93c8ca'});
px('<b>methylated</b>',172.9,1053.3,{family:LATO,size:18,color:'#93c8ca'});
px('<b>Hyper-</b>',285,1030,{family:LATO,size:18,color:'#e8853a'});
px('<b>methylated</b>',285,1053.3,{family:LATO,size:18,color:'#e8853a'});
const rowY=[1085,1109,1132.7,1163.3,1187.3,1211.3];
tableRows.forEach((r,i)=>{
  px(r,50.7,rowY[i],{anchor:'left',family:LATO,size:17.5,color:'#222'});
  px(tableHypo[i].replace('<','&lt;'),172.9,rowY[i],{family:LATO,size:17.5,color:'#222'});
  px(tableHyper[i].replace('<','&lt;'),285,rowY[i],{family:LATO,size:17.5,color:'#222'});
});
shapes.push({type:'line',xref:'paper',yref:'paper',x0:229.4/W,x1:229.4/W,y0:1-1020/H,y1:1-1221.7/H,line:{color:'#444',width:1}});
shapes.push({type:'line',xref:'paper',yref:'paper',x0:117.6/W,x1:342/W,y0:1-1065.3/H,y1:1-1065.3/H,line:{color:'#444',width:1.2}});

Object.assign(layout,{width:W,height:H,margin:{l:0,r:0,t:0,b:0,pad:0},paper_bgcolor:'#fff',plot_bgcolor:'#fff',showlegend:false,barmode:'stack',annotations,shapes,hovermode:false});
Plotly.newPlot('chart',traces,layout,{displayModeBar:false,staticPlot:true});
</script></body></html>
